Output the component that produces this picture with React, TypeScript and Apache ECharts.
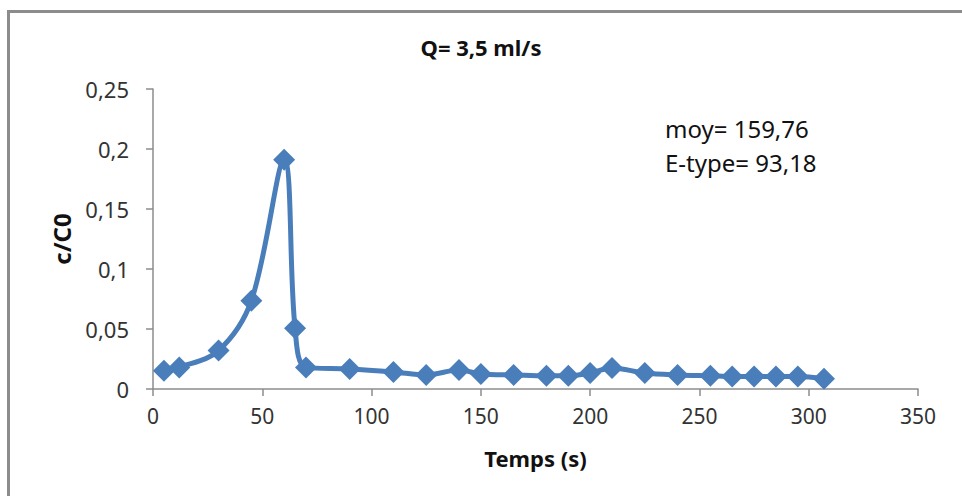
import React, { useEffect, useRef } from "react";
import * as echarts from "echarts";

const chartTitle = "Q= 3,5 ml/s";
const xAxisTitle = "Temps (s)";
const yAxisTitle = "c/C0";
const annotationLines = ["moy= 159,76", "E-type= 93,18"];

const timeValues = [5, 12, 30, 45, 60, 65, 70, 90, 110, 125, 140, 150, 165, 180, 190, 200, 210, 225, 240, 255, 265, 275, 285, 295, 307];
const concValues = [0.0153, 0.018, 0.032, 0.0736, 0.191, 0.0506, 0.018, 0.0167, 0.0142, 0.0117, 0.0158, 0.0125, 0.0117, 0.011, 0.011, 0.0133, 0.0175, 0.0133, 0.0117, 0.011, 0.0105, 0.0105, 0.0105, 0.0105, 0.0085];

const FONT = "'Noto Sans', 'Open Sans', sans-serif";

export default function App() {
  const ref = useRef<HTMLDivElement>(null);
  useEffect(() => {
    if (!ref.current) return;
    const chart = echarts.init(ref.current, null, { renderer: "svg" });
    const fmt = (v: number) => String(Math.round(v * 1000) / 1000).replace(".", ",");
    chart.setOption({
      animation: false,
      backgroundColor: "#ffffff",
      textStyle: { fontFamily: FONT },
      title: {
        text: chartTitle,
        left: "center",
        top: 31,
        textStyle: { fontFamily: FONT, fontSize: 22, fontWeight: "bold", color: "#111" },
      },
      grid: { left: 153, right: 44, top: 89, bottom: 107, containLabel: false },
      xAxis: {
        type: "value",
        min: 0,
        max: 350,
        interval: 50,
        name: xAxisTitle,
        nameLocation: "middle",
        nameGap: 58,
        nameTextStyle: { fontFamily: FONT, fontSize: 22, fontWeight: "bold", color: "#111" },
        axisLine: { show: true, lineStyle: { color: "#8c8c8c", width: 1.5 } },
        axisTick: { show: true, inside: false, length: 7, lineStyle: { color: "#8c8c8c", width: 1.5 } },
        axisLabel: { fontFamily: FONT, fontSize: 21, color: "#333", margin: 16 },
        splitLine: { show: false },
      },
      yAxis: {
        type: "value",
        min: 0,
        max: 0.25,
        interval: 0.05,
        name: yAxisTitle,
        nameLocation: "middle",
        nameGap: 80,
        nameRotate: 90,
        nameTextStyle: { fontFamily: FONT, fontSize: 24, fontWeight: "bold", color: "#111" },
        axisLine: { show: true, lineStyle: { color: "#8c8c8c", width: 1.5 } },
        axisTick: { show: true, inside: false, length: 7, lineStyle: { color: "#8c8c8c", width: 1.5 } },
        axisLabel: { fontFamily: FONT, fontSize: 22, color: "#333", margin: 24, formatter: fmt },
        splitLine: { show: false },
      },
      graphic: [
        {
          type: "rect",
          z: -10,
          shape: { x: 8.5, y: 11.5, width: 1000, height: 600 },
          style: { fill: "none", stroke: "#8c8c8c", lineWidth: 3 },
          silent: true,
        },
        {
          type: "text",
          x: 665,
          y: 128,
          style: { text: annotationLines[0], font: `24px ${FONT}`, fill: "#111", verticalAlign: "middle" },
        },
        {
          type: "text",
          x: 665,
          y: 162,
          style: { text: annotationLines[1], font: `24px ${FONT}`, fill: "#111", verticalAlign: "middle" },
        },
      ],
      series: [
        {
          type: "line",
          data: timeValues.map((t, i) => [t, concValues[i]]),
          smooth: 0.35,
          symbol: "diamond",
          symbolSize: 22,
          lineStyle: { color: "#4a7ebb", width: 5 },
          itemStyle: { color: "#4a7ebb" },
        },
      ],
    });
    return () => chart.dispose();
  }, []);
  return (
    <div
      ref={ref}
      style={{ position: "fixed", left: 0, top: 0, width: 962, height: 496 }}
    />
  );
}
